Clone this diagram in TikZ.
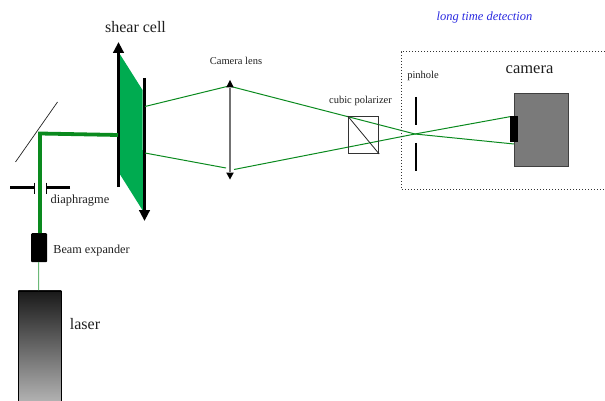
\documentclass[tikz,border=0pt]{standalone}
\usepackage{fontspec}
\setmainfont{Liberation Serif}
\usetikzlibrary{arrows.meta}
\definecolor{beam}{HTML}{0A8A1E}
\definecolor{cell}{HTML}{00AB50}
\definecolor{bluetext}{HTML}{2A2AE0}
\tikzset{
  lbl/.style={inner sep=0pt,text=black!88},
  ray/.style={draw=beam,line width=1pt},
  thickbeam/.style={draw=beam,line width=3.8pt}
}
\begin{document}
\begin{tikzpicture}[x=1pt,y=-1pt]
\useasboundingbox (0,0) rectangle (605,401);
% points of the beam
\coordinate (m) at (40,133.5);
\coordinate (cellin) at (118,135);
\coordinate (cu) at (145,106.5);
\coordinate (cl) at (145,153);
\coordinate (lu) at (229,86);
\coordinate (ll) at (226,168);
\coordinate (lr) at (234,169.5);
\coordinate (f) at (415,134);
\coordinate (su) at (511,116.5);
\coordinate (sl) at (514,144);
% shear cell
\path[fill=cell] (118.5,52) -- (142.5,90) -- (143,211) -- (118.5,172) -- cycle;
\draw[line width=3pt,-{Triangle[length=11pt,width=10.5pt]}] (118.5,187) -- (118.5,42);
\draw[line width=3pt,-{Triangle[length=11pt,width=10.5pt]}] (144.5,78) -- (144.5,221);
% mirror
\coordinate (mira) at (15.5,162);
\coordinate (mirb) at (57.5,102);
\draw[line width=.7pt,black!85] (mira) -- (mirb);
% laser, expander
\node[draw=black,line width=.8pt,inner sep=0pt,minimum width=43pt,minimum height=111pt,top color=black!90,bottom color=black!30,anchor=north west] (laser) at (18,290.5) {};
\node[fill=black,rounded corners=1pt,inner sep=0pt,minimum width=16pt,minimum height=29pt,anchor=north west] (exp) at (31,233) {};
\draw[draw=beam!60,line width=1pt] (38.5,262) -- (38.7,290);
\draw[thickbeam,line join=miter] (cellin) -- (m) -- (40,233);
% diaphragm
\coordinate (dla) at (10,187.5);
\coordinate (dlb) at (34,187.5);
\coordinate (dra) at (70,187.5);
\coordinate (drb) at (46.5,187.5);
\draw[line width=2.4pt] (dla) -- (dlb);
\draw[line width=2.4pt] (dra) -- (drb);
\draw[line width=1pt] (34,182.5) -- (34,193.5);
\draw[line width=1pt] (46.5,182.5) -- (46.5,193.5);
% rays
\draw[ray] (cu) -- (lu) -- (f) -- (sl);
\draw[ray] (cl) -- (ll);
\draw[ray] (lr) -- (f) -- (su);
% lens
\draw[draw=black!55,line width=1.9pt] (230,88) -- (230,172);
\path[fill=black] (230,80) -- (233.8,87.5) -- (226.2,87.5) -- cycle;
\path[fill=black] (230,179.5) -- (233.8,172.5) -- (226.2,172.5) -- cycle;
% polarizer
\node[draw=black!80,line width=1pt,inner sep=0pt,minimum width=30.5pt,minimum height=37pt,anchor=north west] (pol) at (347.7,116) {};
\draw[line width=.8pt,black!85] (pol.north west) -- (pol.south east);
% detection box
\draw[line width=1pt,black!80,dotted] (605,52) -- (401,52) -- (401,189) -- (605,189);
% pinhole
\draw[line width=2pt] (416,97) -- (416,125);
\draw[line width=2pt] (416,143) -- (416,171);
% camera
\node[draw=black!75,line width=1pt,fill=black!52,inner sep=0pt,minimum width=53.5pt,minimum height=73.5pt,anchor=north west] (cam) at (514.2,92.7) {};
\node[fill=black,inner sep=0pt,minimum width=8pt,minimum height=25.5pt,anchor=north west] (sensor) at (510,116) {};
% labels
\node[lbl,font=\fontsize{16}{16}\selectfont] (tshear) at (135.5,27) {shear cell};
\node[lbl,font=\fontsize{10.5}{10.5}\selectfont] (tlens) at (236,60.5) {Camera lens};
\node[lbl,font=\fontsize{10.5}{10.5}\selectfont] (tpol) at (360.5,100.5) {cubic polarizer};
\node[lbl,font=\fontsize{10.5}{10.5}\selectfont] (tpin) at (423,76) {pinhole};
\node[lbl,font=\fontsize{16.5}{16.5}\selectfont] (tcam) at (529.5,70) {camera};
\node[lbl,text=bluetext,font=\fontsize{12.5}{12.5}\selectfont\itshape] (tlong) at (484.5,17.5) {long time detection};
\node[lbl,font=\fontsize{12.4}{12.4}\selectfont] (tdia) at (80,200.5) {diaphragme};
\node[lbl,font=\fontsize{12.2}{12.2}\selectfont] (texp) at (91.5,251) {Beam expander};
\node[lbl,font=\fontsize{16}{16}\selectfont] (tlaser) at (85,324) {laser};
\end{tikzpicture}
\end{document}
